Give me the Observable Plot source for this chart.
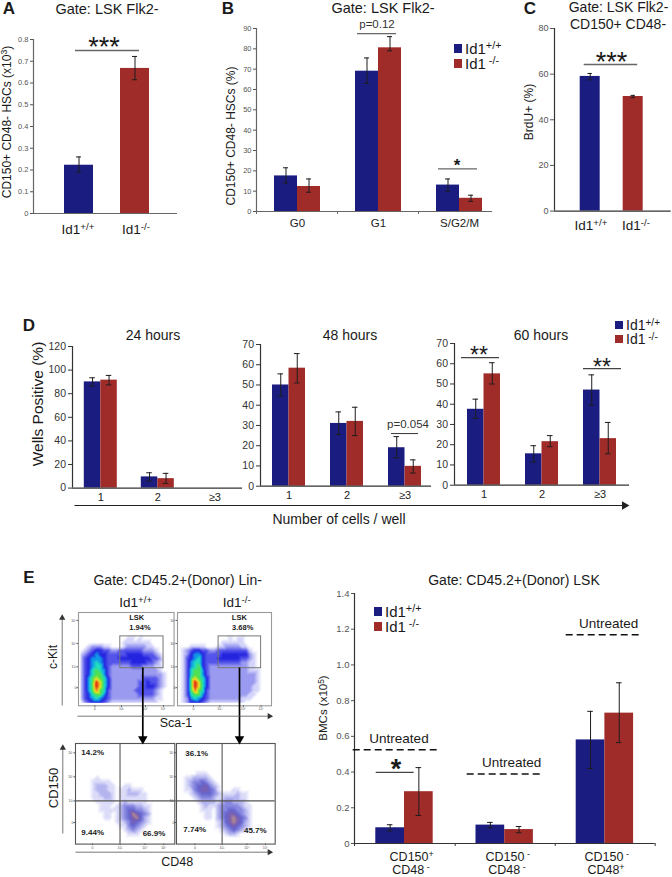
<!DOCTYPE html>
<html>
<head>
<meta charset="utf-8">
<script src="https://cdn.jsdelivr.net/npm/d3@7"></script>
<script src="https://cdn.jsdelivr.net/npm/@observablehq/plot@0.6"></script>
<style>
html,body{margin:0;padding:0;background:#fff}
#root{position:relative;width:672px;height:877px;overflow:hidden;font-family:"Liberation Sans",Arial,sans-serif}
.lb{position:absolute;white-space:nowrap;line-height:1;transform:translate(-50%,-50%)}
sup{font-size:.72em;vertical-align:.42em;line-height:0}
</style>
</head>
<body>
<div id="root"></div>
<script>
// ---------- genotypes ----------
const genotypes = ["Id1+/+", "Id1-/-"];
const genotypeColors = ["#1b1c80", "#a02c2a"];

// ---------- Panel A ----------
const aWt = [0.222], aWtLo = [0.19], aWtHi = [0.26];
const aKo = [0.667], aKoLo = [0.615], aKoHi = [0.722];
const aTicks = [0, 0.1, 0.2, 0.3, 0.4, 0.5, 0.6, 0.7, 0.8];

// ---------- Panel B ----------
const bGroups = ["G0", "G1", "S/G2/M"];
const bWt = [17.5, 69, 13], bWtLo = [14, 63, 10], bWtHi = [21.5, 75.5, 16];
const bKo = [12.3, 80.5, 6.5], bKoLo = [9.5, 79, 5], bKoHi = [16, 86, 8];
const bTicks = [0, 10, 20, 30, 40, 50, 60, 70, 80, 90];

// ---------- Panel C ----------
const cWt = [59], cWtLo = [57.5], cWtHi = [60.3];
const cKo = [50.2], cKoLo = [49.7], cKoHi = [50.7];
const cTicks = [0, 20, 40, 60, 80];

// ---------- Panel D ----------
const dGroups = ["1", "2", "≥3"];
const d24Wt = [90, 9.5], d24WtLo = [86.5, 6], d24WtHi = [93.5, 13];
const d24Ko = [91.5, 8], d24KoLo = [87.5, 4], d24KoHi = [95.5, 12.5];
const d24Ticks = [0, 20, 40, 60, 80, 100, 120];
const d48Wt = [50, 31, 19], d48WtLo = [44.5, 25.5, 14], d48WtHi = [55.5, 36.7, 24.5];
const d48Ko = [58.3, 32, 9.8], d48KoLo = [51, 25, 6.5], d48KoHi = [65.5, 39, 13];
const d60Wt = [37.5, 15.5, 47], d60WtLo = [33, 11.5, 39.5], d60WtHi = [42.5, 19.5, 54.5];
const d60Ko = [55, 21.5, 23], d60KoLo = [50, 19, 15.5], d60KoHi = [60.5, 24.5, 31];
const d70Ticks = [0, 10, 20, 30, 40, 50, 60, 70];

// ---------- Panel E (bars) ----------
const eWt = [0.088, 0.103, 0.58], eWtLo = [0.07, 0.088, 0.42], eWtHi = [0.105, 0.118, 0.74];
const eKo = [0.29, 0.078, 0.73], eKoLo = [0.157, 0.06, 0.565], eKoHi = [0.425, 0.095, 0.90];
const eUntreated = [0.525, 0.389, 1.169];
const eTicks = [0, 0.2, 0.4, 0.6, 0.8, 1.0, 1.2, 1.4];

// ---------- Panel E (flow cytometry density, read by eye; 0 empty .. a peak) ----------
const lskWt = [
"000000000000000000000000","000000000000000000000000","000000000000000000000000","000000000000000000000000",
"000000000000000000000000","000000000000000000000000","000000000000110100000000","000000000001111111000000",
"001222110001222221100000","012344332233333322210000","123454433333444433321000","134555433344444444332000",
"134565433333344443321000","134566432222233322211000","134676532222222222221000","134677532222222222222100",
"135787642222222233332100","1357a8642222222334332100","1357a8642222222334432100","135797632222223333321000",
"134677532222222333321000","134565432222222222211000","023444321111111111110000"];
const lskKo = [
"000000000000000000000000","000000000000000000000000","000000000000000000000000","000000000000000000000000",
"000000000000000000000000","000000000000000000000000","000000000000010110000000","000000000001111110000000",
"000111100011222211000000","012344332233333333100000","012455433334444444210000","013456433344444433210000",
"013566433333333322110000","013567432222222222110000","013677532222222222111000","013677532222222222221000",
"013787642222222222221000","0137a8642222222222221000","0137a8642222222222211000","013797632222222222211000",
"013677532222222222110000","012565432222222211100000","012444321111111110000000"];
const cdWt = [
"0000000000000000000000000","0000000000000000000000000","0000000000000000000000000","0000000000000000000000000",
"0000000000000000000000000","0000000000000000000000000","0000000000000000000000000","0000000000000000000000000",
"0000010000000000000000000","0000111110000000000000000","0000122211001100000000000","0000122211011211100000000",
"0000112221011222110000000","0000111221011111110000000","0000011111012111110000000","0000001110123332211000000",
"0000001111123443321000000","0000000110123465432000000","0000000110123456421000000","0000000000112354321000000",
"0000000000011343210000000","0000000000001232100000000","0000000000000111000000000","0000000000000000000000000",
"0000000000000000000000000"];
const cdKo = [
"0000000000000000000000000","0000000000000000000000000","0000000000000000000000000","0000000000000000000000000",
"0000000000000000000000000","0000000000000000000000000","0000000000000000000000000","0000011100000000000000000",
"0011222210000000000000000","0012334321000000000000000","0012344532100000000000000","0011345543100011000000000",
"0001234443211112110000000","0000123332112222110000000","0000012222123322210000000","0000001211233333211000000",
"0000001110233443321000000","0000000110234554321000000","0000000110234565431000000","0000000000124565421000000",
"0000000000123454321000000","0000000000012343210000000","0000000000001221000000000","0000000000000000000000000",
"0000000000000000000000000"];
const lskPalette = ["#ffffff","#d4d4fa","#9a9af0","#5454ea","#2424e0","#1098e8","#20dcc0","#50e050","#e8e820","#f08020","#e02010"];
const cdPalette = ["#ffffff","#dcdcf9","#b4b4ef","#8888e0","#6666cf","#7a5fb0","#b08a90"];
const decadeLabels = ["0", "10³", "10⁴", "10⁵"];

// ---------- helpers ----------
const root = document.getElementById("root");
const FONT = '"Liberation Sans",Arial,sans-serif';
const M = 36;

function mount(svg, x, y) {
  svg.style.position = "absolute";
  svg.style.left = x + "px";
  svg.style.top = y + "px";
  svg.style.maxWidth = "none";
  svg.style.background = "transparent";
  svg.style.overflow = "visible";
  root.appendChild(svg);
}
function label(html, x, y, o = {}) {
  const s = document.createElement("div");
  s.className = "lb";
  s.innerHTML = html;
  s.style.left = x + "px";
  s.style.top = y + "px";
  s.style.fontSize = (o.size || 13) + "px";
  s.style.color = o.color || "#1a1a1a";
  if (o.weight) s.style.fontWeight = o.weight;
  let t = "translate(-50%,-50%)";
  if (o.rotate) t += " rotate(" + o.rotate + "deg)";
  s.style.transform = t;
  root.appendChild(s);
}
function legend(x, y1, y2, w, h, textX, size) {
  [y1, y2].forEach((y, k) => {
    const r = document.createElement("div");
    r.style.cssText = `position:absolute;left:${x}px;top:${y - h / 2}px;width:${w}px;height:${h}px;background:${genotypeColors[k]}`;
    root.appendChild(r);
  });
  [[y1, 'Id1<sup>+/+</sup>'], [y2, 'Id1<sup> -/-</sup>']].forEach(([y, html]) => {
    const a = document.createElement("div");
    a.innerHTML = html;
    a.style.cssText = `position:absolute;left:${textX}px;top:${y - size / 2}px;font-size:${size}px;line-height:1;white-space:nowrap;color:#1a1a1a`;
    root.appendChild(a);
  });
}

function barPanel(c) {
  const bw = c.barW / c.step;
  const rows = [];
  const add = (k, vals, lo, hi) => vals.forEach((v, i) => {
    const pos = c.single ? k : i + (k === 0 ? -bw / 2 : bw / 2);
    rows.push({pos, geno: genotypes[k], v, lo: lo[i], hi: hi[i]});
  });
  add(0, c.wt, c.wtLo, c.wtHi);
  add(1, c.ko, c.koLo, c.koHi);
  const px = p => (p - c.c0) / c.step;
  const halfBar = bw / 2;
  const cap = c.cap / c.step;
  const axisCol = c.axisColor || "#666";
  const marks = [
    Plot.rectY(rows, {x1: d => d.pos - halfBar, x2: d => d.pos + halfBar, y1: 0, y2: "v", fill: "geno"}),
    Plot.ruleX(rows, {x: "pos", y1: "lo", y2: "hi", stroke: "#1c1c1c", strokeWidth: 1}),
    Plot.ruleY(rows, {y: "lo", x1: d => d.pos - cap, x2: d => d.pos + cap, stroke: "#1c1c1c", strokeWidth: 1}),
    Plot.ruleY(rows, {y: "hi", x1: d => d.pos - cap, x2: d => d.pos + cap, stroke: "#1c1c1c", strokeWidth: 1}),
    Plot.axisY({ticks: c.yTicks, tickFormat: c.yFmt, tickSize: c.tickSize || 3, tickPadding: c.tickPad || 2, fontSize: c.tickFont, color: c.tickColor || "#555", label: null}),
    Plot.ruleX([px(c.left)], {stroke: axisCol, strokeWidth: 1.2}),
    Plot.ruleY([0], {stroke: axisCol, strokeWidth: 1.2})
  ];
  if (c.xTicks) marks.push(Plot.axisX({ticks: c.xTicks.map(px), tickFormat: () => "", tickSize: 3, color: axisCol, label: null}));
  if (c.cats) marks.push(Plot.axisX({ticks: c.cats.map((_, i) => i), tickFormat: i => c.cats[i], tickSize: 0, tickPadding: c.catPad, fontSize: c.catFont, color: "#222", label: null}));
  (c.sig || []).forEach(s => marks.push(
    Plot.ruleY([s.y], {x1: px(s.from), x2: px(s.to), stroke: s.color || "#555", strokeWidth: s.w || 1.3, strokeDasharray: s.dash})
  ));
  const svg = Plot.plot({
    width: c.right - c.left + 2 * M,
    height: c.bottom - c.top + 2 * M,
    margin: M,
    style: {fontFamily: FONT, background: "transparent", overflow: "visible"},
    x: {domain: [px(c.left), px(c.right)], axis: null, label: null},
    y: {domain: [0, c.yMax], axis: null, label: null},
    color: {domain: genotypes, range: genotypeColors},
    marks
  });
  mount(svg, c.left - M, c.top - M);
}

function flowPanel(c) {
  const cols = c.grid[0].length, rowsN = c.grid.length;
  const [xa, xb] = c.xd, [ya, yb] = c.yd;
  // one sample per density cell, in the scale's decade units
  const samples = c.grid.flatMap((r, j) => Array.from(r, (ch, i) => ({
    x: xa + (xb - xa) * (i + 0.5) / cols,
    y: c.gy[0] + (c.gy[1] - c.gy[0]) * (j + 0.5) / rowsN,
    v: parseInt(ch, 16)
  })));
  const marks = [
    Plot.raster(samples, {x: "x", y: "y", fill: "v", interpolate: "barycentric", pixelSize: 1}),
    Plot.frame({stroke: c.frame || "#9a9a9a", strokeWidth: 1.1}),
    Plot.axisX({ticks: c.xt, tickFormat: (d, i) => decadeLabels[i], tickSize: 1.5, tickPadding: 0.5, fontSize: 3.5, color: "#555", label: null}),
    Plot.axisY({ticks: c.yt, tickFormat: (d, i) => decadeLabels[i], tickSize: 1.5, tickPadding: 0.5, fontSize: 3.5, color: "#555", label: null})
  ];
  if (c.gate) marks.push(Plot.rect([c.gate], {x1: "x1", x2: "x2", y1: "y1", y2: "y2", fill: "none", stroke: "#777", strokeWidth: 1}));
  if (c.cross) {
    marks.push(Plot.ruleX([c.cross], {stroke: "#555", strokeWidth: 1.1}));
    marks.push(Plot.ruleY([c.cross], {stroke: "#555", strokeWidth: 1.1}));
  }
  const svg = Plot.plot({
    width: c.right - c.left + 2 * M,
    height: c.bottom - c.top + 2 * M,
    margin: M,
    style: {fontFamily: FONT, background: "transparent", overflow: "visible"},
    x: {domain: c.xd, axis: null, label: null},
    y: {domain: c.yd, axis: null, label: null},
    color: {type: "linear", domain: c.palette.map((_, i) => i), range: c.palette},
    marks
  });
  mount(svg, c.left - M, c.top - M);
}

// ---------- panel A ----------
barPanel({left: 33, right: 177, top: 39, bottom: 213, yMax: 0.8, yTicks: aTicks, yFmt: d => d === 0 ? "0" : d3.format(".1f")(d),
  c0: 78.5, step: 56, barW: 29, single: true, cap: 2.5, tickFont: 7.5,
  wt: aWt, wtLo: aWtLo, wtHi: aWtHi, ko: aKo, koLo: aKoLo, koHi: aKoHi,
  sig: [{from: 75, to: 139, y: 0.749, color: "#666", w: 1.5}]});
label("Gate: LSK Flk2-", 107, 9, {size: 14.5});
label("A", 9, 8, {size: 17, weight: "bold"});
label("CD150+ CD48- HSCs (x10<sup>3</sup>)", 7, 122, {size: 12, rotate: -90});
label("***", 104, 47, {size: 27});
label("Id1<sup>+/+</sup>", 78, 230, {size: 13.5});
label("Id1<sup>-/-</sup>", 136, 230, {size: 13.5});

// ---------- panel B ----------
barPanel({left: 256, right: 492, top: 28, bottom: 211, yMax: 90, yTicks: bTicks, yFmt: d => d,
  c0: 297, step: 81, barW: 23, cap: 2.5, tickFont: 7.5, cats: bGroups, catPad: 7, catFont: 11.5,
  xTicks: [256, 337, 418],
  wt: bWt, wtLo: bWtLo, wtHi: bWtHi, ko: bKo, koLo: bKoLo, koHi: bKoHi,
  sig: [{from: 357, to: 396, y: 87.5, color: "#666", w: 1.2}, {from: 438, to: 477, y: 21, color: "#666", w: 1.2}]});
label("Gate: LSK Flk2-", 383, 8, {size: 14.5});
label("B", 228, 8, {size: 17, weight: "bold"});
label("CD150+ CD48- HSCs (%)", 231, 136, {size: 12, rotate: -90});
label("p=0.12", 377, 25, {size: 11.5, color: "#333"});
label("*", 457, 165, {size: 17, weight: "bold"});
legend(453.5, 48.5, 63, 8.5, 9, 465, 15);

// ---------- panel C ----------
barPanel({left: 554.3, right: 671, top: 27.7, bottom: 210.3, yMax: 80, yTicks: cTicks, yFmt: d => d,
  c0: 590, step: 43, barW: 20, single: true, cap: 2.2, tickFont: 9, axisColor: "#333", tickSize: 4,
  wt: cWt, wtLo: cWtLo, wtHi: cWtHi, ko: cKo, koLo: cKoLo, koHi: cKoHi,
  sig: [{from: 584, to: 637.5, y: 64.2, color: "#666", w: 1.5}]});
label("Gate: LSK Flk2-", 618.5, 7, {size: 14});
label("CD150+ CD48-", 618, 24, {size: 14});
label("C", 530, 8, {size: 17, weight: "bold"});
label("BrdU+ (%)", 529, 112, {size: 12, rotate: -90});
label("***", 611.5, 62, {size: 27});
label("Id1<sup>+/+</sup>", 591, 226, {size: 13.5});
label("Id1<sup>-/-</sup>", 636, 226, {size: 13.5});

// ---------- panel D ----------
const dCommon = {barW: 16.5, cap: 2.8, tickFont: 10.5, tickColor: "#333", axisColor: "#333", cats: dGroups, catPad: 5, catFont: 11, tickSize: 4, tickPad: 2.5};
barPanel({...dCommon, left: 71.7, right: 241.7, top: 345.7, bottom: 487.3, yMax: 120, yTicks: d24Ticks, yFmt: d => d, c0: 100, step: 57,
  wt: d24Wt, wtLo: d24WtLo, wtHi: d24WtHi, ko: d24Ko, koLo: d24KoLo, koHi: d24KoHi});
barPanel({...dCommon, left: 260, right: 431, top: 344.3, bottom: 486, yMax: 70, yTicks: d70Ticks, yFmt: d => d, c0: 288.5, step: 58,
  wt: d48Wt, wtLo: d48WtLo, wtHi: d48WtHi, ko: d48Ko, koLo: d48KoLo, koHi: d48KoHi,
  sig: [{from: 391, to: 418, y: 26, color: "#333", w: 1}]});
barPanel({...dCommon, left: 454, right: 629, top: 343.3, bottom: 485, yMax: 70, yTicks: d70Ticks, yFmt: d => d, c0: 483.5, step: 58,
  wt: d60Wt, wtLo: d60WtLo, wtHi: d60WtHi, ko: d60Ko, koLo: d60KoLo, koHi: d60KoHi,
  sig: [{from: 461, to: 499, y: 63, color: "#444", w: 1.2}, {from: 583, to: 621, y: 57.6, color: "#444", w: 1.2}]});
label("D", 29, 325, {size: 17, weight: "bold"});
label("24 hours", 153, 335, {size: 14});
label("48 hours", 350, 335, {size: 14});
label("60 hours", 541, 335, {size: 14});
label("Wells Positive (%)", 38, 404, {size: 15.5, rotate: -90});
label("p=0.054", 408, 425, {size: 11.5, color: "#333"});
label("**", 479, 355, {size: 23});
label("**", 602, 367, {size: 23});
label("Number of cells / well", 339, 519, {size: 14});
legend(615, 324.5, 339, 7.5, 8, 626, 14);

// ---------- panel E bars ----------
barPanel({left: 354.3, right: 655, top: 592.7, bottom: 842.7, yMax: 1.4, yTicks: eTicks, yFmt: d => d === 0 ? "0" : d3.format(".1f")(d),
  c0: 404.3, step: 100.2, barW: 28.7, cap: 2.8, tickFont: 9.5, axisColor: "#333",
  xTicks: [354.3, 455, 555, 655],
  wt: eWt, wtLo: eWtLo, wtHi: eWtHi, ko: eKo, koLo: eKoLo, koHi: eKoHi,
  sig: [
    {from: 353, to: 440, y: eUntreated[0], color: "#111", w: 1.6, dash: "7,4"},
    {from: 467, to: 543, y: eUntreated[1], color: "#111", w: 1.6, dash: "7,4"},
    {from: 566, to: 642, y: eUntreated[2], color: "#111", w: 1.6, dash: "7,4"},
    {from: 376, to: 414, y: 0.398, color: "#444", w: 1.1}
  ]});
label("Gate: CD45.2+(Donor) LSK", 514, 580, {size: 14});
label("BMCs (x10<sup>5</sup>)", 324, 708, {size: 11.5, rotate: -90});
label("Untreated", 399, 739, {size: 13.5});
label("Untreated", 511.7, 763, {size: 13.5});
label("Untreated", 608.7, 624, {size: 13.5});
label("*", 396, 769, {size: 27, weight: "bold"});
label("CD150<sup>+</sup>", 411.7, 857, {size: 12.5});
label("CD48<sup> -</sup>", 411, 870, {size: 12.5});
label("CD150<sup> -</sup>", 507.7, 857, {size: 12.5});
label("CD48<sup> -</sup>", 507, 870, {size: 12.5});
label("CD150<sup> -</sup>", 606.7, 857, {size: 12.5});
label("CD48<sup>+</sup>", 606, 870, {size: 12.5});
legend(374, 611.5, 626.5, 8, 8.5, 385, 15);

// ---------- panel E flow ----------
const gate = {x1: 2.95, x2: 4.75, y1: 2.94, y2: 4.31};
const topCfg = {top: 611.7, bottom: 705, xd: [1.21, 5.19], yd: [1.32, 5.34], gate, palette: lskPalette,
  gy: [5.34, 1.38], xt: [1.89, 3, 4, 4.75], yt: [2.1, 3, 4, 5]};
flowPanel({...topCfg, left: 77.7, right: 173.3, grid: lskWt});
flowPanel({...topCfg, left: 176.7, right: 270.7, grid: lskKo});
const botCfg = {top: 742.7, bottom: 843.3, yd: [1.2, 5.39], cross: 3, palette: cdPalette, frame: "#555",
  gy: [5.39, 1.2], xt: [1.9, 3, 4, 4.75], yt: [2.1, 3, 4, 5]};
flowPanel({...botCfg, left: 74.7, right: 174, xd: [1.22, 5.19], grid: cdWt});
flowPanel({...botCfg, left: 176, right: 274.7, xd: [1.16, 5.14], grid: cdKo});

// arrows and axis guides on a page-sized identity layer
const segs = [
  {x1: 74, y1: 505, x2: 622, y2: 505, w: 1, c: "#222"},
  {x1: 142.3, y1: 667, x2: 142.3, y2: 738, w: 1.7, c: "#000"},
  {x1: 239, y1: 667, x2: 239, y2: 738, w: 1.7, c: "#000"},
  {x1: 61.7, y1: 705, x2: 61.7, y2: 618, w: .8, c: "#555"},
  {x1: 77, y1: 715.7, x2: 268, y2: 715.7, w: .8, c: "#555"},
  {x1: 62.3, y1: 833, x2: 62.3, y2: 748, w: .8, c: "#555"},
  {x1: 75, y1: 851.7, x2: 268, y2: 851.7, w: .8, c: "#555"}
];
const heads = [
  {x: 624, y: 505, r: 2.6, a: 90, c: "#222"},
  {x: 142.3, y: 738.5, r: 3.2, a: 180, c: "#000"},
  {x: 239, y: 738.5, r: 3.2, a: 180, c: "#000"},
  {x: 61.7, y: 617.5, r: 1.4, a: 0, c: "#333"},
  {x: 269, y: 715.7, r: 1.4, a: 90, c: "#333"},
  {x: 62.3, y: 747.5, r: 1.4, a: 0, c: "#333"},
  {x: 269, y: 851.7, r: 1.4, a: 90, c: "#333"}
];
mount(Plot.plot({
  width: 672, height: 877, margin: 0,
  x: {type: "identity", axis: null}, y: {type: "identity", axis: null},
  style: {background: "transparent", overflow: "visible"},
  marks: [
    Plot.link(segs, {x1: "x1", y1: "y1", x2: "x2", y2: "y2", stroke: d => d.c, strokeWidth: d => d.w}),
    Plot.dot(heads, {x: "x", y: "y", r: "r", symbol: "triangle2", rotate: "a", fill: d => d.c, stroke: "none"})
  ]
}), 0, 0);

label("E", 29, 577, {size: 17, weight: "bold"});
label("Gate: CD45.2+(Donor) Lin-", 177.7, 580, {size: 14});
label("Id1<sup>+/+</sup>", 135.7, 602.7, {size: 13.5});
label("Id1<sup>-/-</sup>", 236.7, 602.7, {size: 13.5});
label("LSK", 136.7, 618, {size: 7.5, weight: "bold"});
label("1.94%", 140, 628.3, {size: 7.5, weight: "bold"});
label("LSK", 239.3, 618, {size: 7.5, weight: "bold"});
label("3.68%", 242.7, 628.3, {size: 7.5, weight: "bold"});
label("c-Kit", 53.3, 656.7, {size: 12, rotate: -90});
label("Sca-1", 176, 723, {size: 12.5});
label("CD150", 52.7, 788, {size: 13, rotate: -90});
label("CD48", 177.3, 861.7, {size: 12.5});
label("14.2%", 92.7, 752.7, {size: 8, weight: "bold"});
label("9.44%", 92.7, 832.7, {size: 8, weight: "bold"});
label("66.9%", 154, 834, {size: 8, weight: "bold"});
label("36.1%", 196.7, 753.7, {size: 8, weight: "bold"});
label("7.74%", 194.7, 830, {size: 8, weight: "bold"});
label("45.7%", 255.3, 831, {size: 8, weight: "bold"});
</script>
</body>
</html>
